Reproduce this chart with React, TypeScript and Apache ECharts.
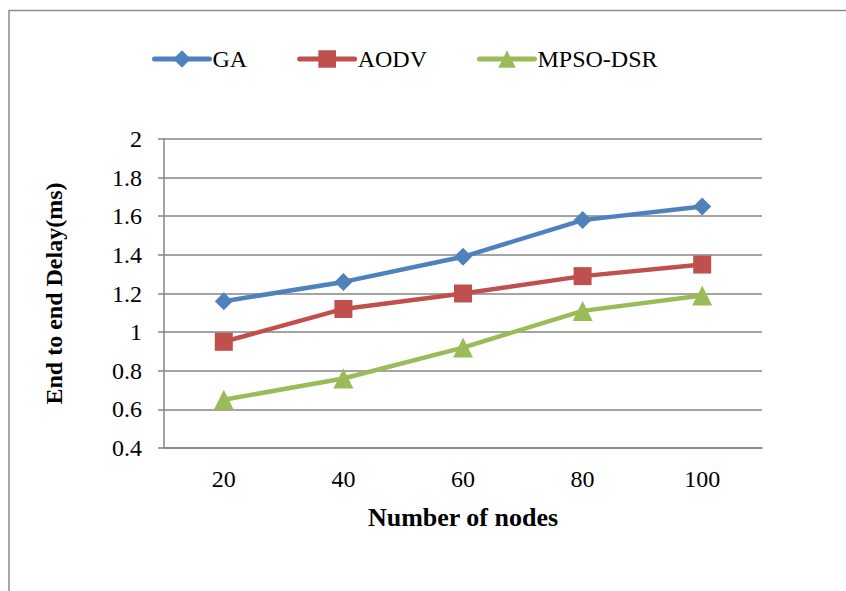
import React, { useEffect, useRef } from "react";
import * as echarts from "echarts";

const categories = ["20", "40", "60", "80", "100"];
const gaValues = [1.16, 1.26, 1.39, 1.58, 1.65];
const aodvValues = [0.95, 1.12, 1.2, 1.29, 1.35];
const mpsoValues = [0.65, 0.76, 0.92, 1.11, 1.19];
const seriesNames = ["GA", "AODV", "MPSO-DSR"];

const FONT = "'Liberation Serif', 'Times New Roman', serif";

export default function App() {
  const ref = useRef<HTMLDivElement>(null);
  useEffect(() => {
    if (!ref.current) return;
    const chart = echarts.init(ref.current, null, { renderer: "svg" });
    const mk = (name: string, data: number[], color: string, symbol: string, size: number) => ({
      name,
      type: "line",
      data,
      symbol,
      symbolSize: size,
      showSymbol: true,
      lineStyle: { color, width: 4.5 },
      itemStyle: { color },
      emphasis: { disabled: true },
    });
    chart.setOption({
      animation: false,
      backgroundColor: "#ffffff",
      textStyle: { fontFamily: FONT },
      graphic: [
        {
          type: "rect",
          shape: { x: 9, y: 10.5, width: 900, height: 700 },
          style: { fill: "none", stroke: "#8c8c8c", lineWidth: 1.5 },
          silent: true,
        },
      ],
      legend: {
        top: 42,
        left: 147,
        itemGap: 50,
        itemWidth: 55,
        itemHeight: 22,
        lineStyle: { width: 5, cap: "round" },
        textStyle: { fontFamily: FONT, fontSize: 24, color: "#000", padding: [0, 0, 0, -2] },
        data: seriesNames,
      },
      grid: { left: 164, right: 84, top: 139, bottom: 143, containLabel: false },
      xAxis: {
        type: "category",
        data: categories,
        boundaryGap: true,
        axisLine: { show: true, lineStyle: { color: "#868686", width: 1.5 } },
        axisTick: { show: false },
        axisLabel: { fontFamily: FONT, fontSize: 24, color: "#000", margin: 19 },
        name: "Number of nodes",
        nameLocation: "middle",
        nameGap: 56,
        nameTextStyle: { fontFamily: FONT, fontSize: 26, fontWeight: "bold", color: "#000" },
      },
      yAxis: {
        type: "value",
        min: 0.4,
        max: 2,
        interval: 0.2,
        axisLine: { show: true, lineStyle: { color: "#868686", width: 1.5 } },
        axisTick: { show: true, inside: false, length: 6, lineStyle: { color: "#868686", width: 1.5 } },
        axisLabel: {
          fontFamily: FONT,
          fontSize: 24,
          color: "#000",
          margin: 22,
          formatter: (v: number) => String(Math.round(v * 10) / 10),
        },
        splitLine: { show: true, lineStyle: { color: "#868686", width: 1.5 } },
        name: "End to end Delay(ms)",
        nameLocation: "middle",
        nameGap: 98,
        nameRotate: 90,
        nameTextStyle: { fontFamily: FONT, fontSize: 24, fontWeight: "bold", color: "#000" },
      },
      series: [
        mk("GA", gaValues, "#4F81BD", "diamond", 18),
        mk("AODV", aodvValues, "#C0504D", "rect", 18),
        mk("MPSO-DSR", mpsoValues, "#9BBB59", "triangle", 20),
      ],
    });
    return () => chart.dispose();
  }, []);
  return (
    <div
      ref={ref}
      style={{ position: "fixed", left: 0, top: 0, width: 846, height: 591 }}
    />
  );
}
